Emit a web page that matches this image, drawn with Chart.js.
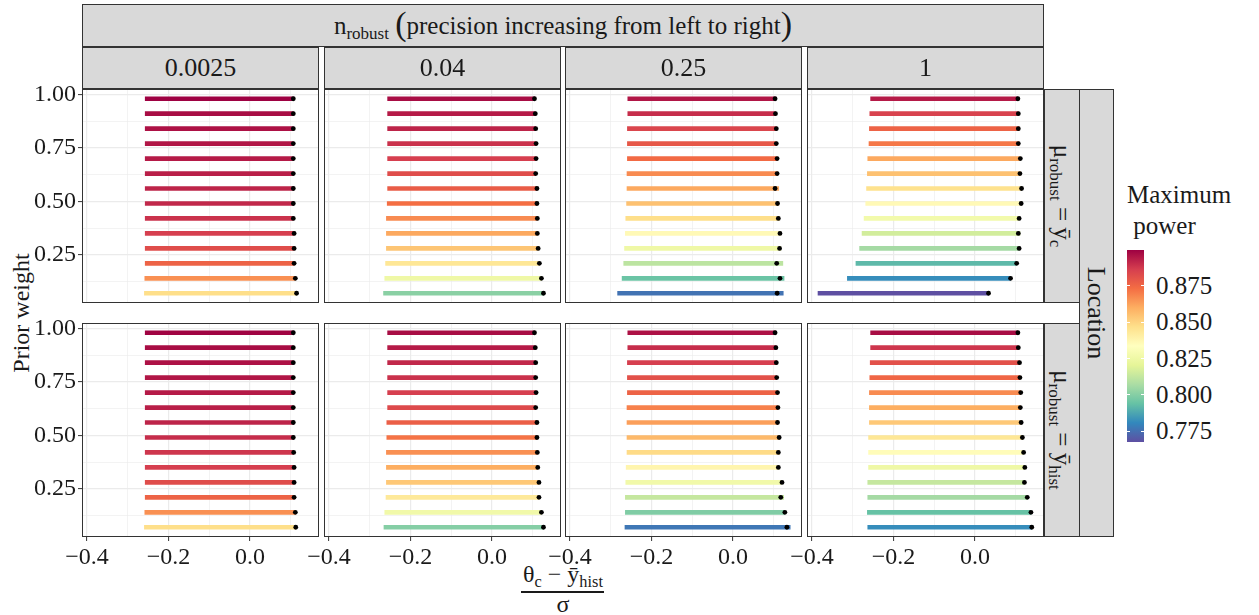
<!DOCTYPE html>
<html lang="en">
<head>
<meta charset="UTF-8">
<title>Maximum power by prior weight</title>
<script src="https://cdn.jsdelivr.net/npm/chart.js"></script>
<style>
  body { margin: 0; background: #fff; }
  #fig { position: relative; width: 1259px; height: 615px; overflow: hidden;
         font-family: "Liberation Serif", "Times New Roman", serif; color: #1a1a1a; }
  #fig canvas { position: absolute; }
  .strip { position: absolute; background: #d9d9d9; border: 1px solid #333; box-sizing: border-box;
           display: flex; align-items: center; justify-content: center; font-size: 26px; white-space: nowrap; }
  .rot { display: inline-block; transform: rotate(90deg); white-space: nowrap; }
  .txt { position: absolute; white-space: nowrap; }
  sub { font-size: 0.68em; vertical-align: -0.28em; line-height: 0; }
  .paren { font-size: 34px; line-height: 0; position: relative; top: 1px; }
</style>
</head>
<body>
<div id="fig">
  <!-- facet strips -->
  <div class="strip" style="left:82px;top:4px;width:962px;height:43px;font-size:25px;">
    <span>n<sub>robust</sub>&nbsp;<span class="paren">(</span>precision increasing from left to right<span class="paren">)</span></span>
  </div>
  <div class="strip" style="left:1044px;top:89px;width:36px;height:214px;font-size:25px;">
    <span class="rot">μ<sub>robust</sub> = ȳ<sub>c</sub></span>
  </div>
  <div class="strip" style="left:1044px;top:323px;width:36px;height:214px;font-size:25px;">
    <span class="rot">μ<sub>robust</sub> = ȳ<sub>hist</sub></span>
  </div>
  <div class="strip" style="left:1079px;top:89px;width:35px;height:448px;">
    <span class="rot">Location</span>
  </div>

  <!-- axis titles -->
  <div class="txt" style="left:21px;top:313px;font-size:24px;transform:translate(-50%,-50%) rotate(-90deg);">Prior weight</div>
  <div class="txt" style="left:563px;top:561px;font-size:24px;transform:translateX(-50%);">θ<sub>c</sub> − ȳ<sub>hist</sub></div>
  <div style="position:absolute;left:521px;top:591px;width:83px;height:1.5px;background:#1a1a1a;"></div>
  <div class="txt" style="left:563px;top:591px;font-size:24px;transform:translateX(-50%);">σ</div>

  <!-- legend -->
  <div class="txt" style="left:1127px;top:179px;font-size:25px;line-height:31px;">Maximum<br>&nbsp;power</div>
  <div id="bar" style="position:absolute;left:1127px;top:250px;width:17px;height:192px;"></div>
</div>

<script>
// prior weights, one segment per weight (top to bottom)
const weights = [0.98, 0.91, 0.84, 0.77, 0.70, 0.63, 0.56, 0.49, 0.42, 0.35, 0.28, 0.21, 0.14, 0.07];
const nRobust = ['0.0025', '0.04', '0.25', '1'];

const xMajor = [-0.4, -0.2, 0.0];
const xMajorLabels = ['−0.4', '−0.2', '0.0'];
const xMinor = [-0.3, -0.1, 0.1];
const yMajor = [0.25, 0.5, 0.75, 1.0];
const yMajorLabels = ['0.25', '0.50', '0.75', '1.00'];
const yMinor = [0.125, 0.375, 0.625, 0.875];
const legendTicks = [0.775, 0.800, 0.825, 0.850, 0.875];
const xRange = [-0.412, 0.169];
const yRange = [0.0245, 1.0255];

// mu_robust = ybar_c (top row)
const lowC1  = [-0.257, -0.257, -0.257, -0.257, -0.257, -0.257, -0.257, -0.257, -0.257, -0.257, -0.257, -0.257, -0.258, -0.259];
const highC1 = [0.106, 0.106, 0.106, 0.106, 0.106, 0.106, 0.106, 0.106, 0.106, 0.108, 0.108, 0.108, 0.111, 0.114];
const dotC1  = [0.106, 0.106, 0.106, 0.106, 0.106, 0.106, 0.106, 0.106, 0.106, 0.108, 0.108, 0.108, 0.111, 0.114];
const powC1  = [0.8995, 0.897, 0.896, 0.895, 0.894, 0.893, 0.892, 0.891, 0.889, 0.886, 0.882, 0.876, 0.866, 0.847];

const lowC2  = [-0.256, -0.256, -0.256, -0.256, -0.256, -0.256, -0.256, -0.257, -0.259, -0.259, -0.259, -0.261, -0.263, -0.266];
const highC2 = [0.104, 0.106, 0.107, 0.108, 0.108, 0.107, 0.110, 0.110, 0.111, 0.111, 0.113, 0.116, 0.121, 0.126];
const dotC2  = [0.104, 0.106, 0.107, 0.108, 0.108, 0.107, 0.110, 0.110, 0.111, 0.111, 0.113, 0.116, 0.121, 0.126];
const powC2  = [0.897, 0.894, 0.892, 0.889, 0.886, 0.882, 0.878, 0.873, 0.867, 0.861, 0.854, 0.844, 0.825, 0.801];

const lowC3  = [-0.258, -0.258, -0.259, -0.259, -0.259, -0.260, -0.260, -0.261, -0.263, -0.264, -0.266, -0.268, -0.272, -0.283];
const highC3 = [0.103, 0.104, 0.106, 0.106, 0.108, 0.109, 0.112, 0.112, 0.114, 0.117, 0.117, 0.122, 0.125, 0.123];
const dotC3  = [0.103, 0.104, 0.106, 0.106, 0.108, 0.108, 0.103, 0.109, 0.111, 0.115, 0.114, 0.107, 0.115, 0.108];
const powC3  = [0.895, 0.890, 0.884, 0.879, 0.874, 0.867, 0.861, 0.855, 0.847, 0.836, 0.825, 0.811, 0.795, 0.776];

const lowC4  = [-0.256, -0.258, -0.259, -0.260, -0.263, -0.264, -0.266, -0.268, -0.272, -0.277, -0.283, -0.292, -0.313, -0.385];
const highC4 = [0.105, 0.106, 0.108, 0.108, 0.110, 0.111, 0.113, 0.113, 0.108, 0.110, 0.109, 0.101, 0.087, 0.033];
const dotC4  = [0.105, 0.106, 0.106, 0.106, 0.111, 0.110, 0.114, 0.113, 0.108, 0.106, 0.108, 0.102, 0.087, 0.033];
const powC4  = [0.894, 0.885, 0.876, 0.871, 0.861, 0.855, 0.846, 0.836, 0.827, 0.816, 0.806, 0.792, 0.782, 0.7677];

// mu_robust = ybar_hist (bottom row)
const lowH1  = [-0.257, -0.257, -0.257, -0.257, -0.257, -0.257, -0.257, -0.257, -0.257, -0.257, -0.257, -0.257, -0.258, -0.259];
const highH1 = [0.106, 0.106, 0.106, 0.106, 0.106, 0.106, 0.106, 0.106, 0.107, 0.108, 0.108, 0.108, 0.111, 0.112];
const dotH1  = [0.106, 0.106, 0.106, 0.106, 0.106, 0.106, 0.106, 0.106, 0.107, 0.108, 0.108, 0.108, 0.111, 0.112];
const powH1  = [0.899, 0.897, 0.896, 0.895, 0.894, 0.893, 0.892, 0.890, 0.888, 0.886, 0.882, 0.876, 0.866, 0.847];

const lowH2  = [-0.256, -0.256, -0.256, -0.256, -0.256, -0.256, -0.258, -0.258, -0.259, -0.259, -0.259, -0.260, -0.263, -0.265];
const highH2 = [0.104, 0.106, 0.107, 0.107, 0.108, 0.107, 0.110, 0.110, 0.111, 0.112, 0.115, 0.115, 0.121, 0.126];
const dotH2  = [0.104, 0.106, 0.107, 0.107, 0.108, 0.107, 0.110, 0.110, 0.111, 0.112, 0.115, 0.115, 0.121, 0.126];
const powH2  = [0.897, 0.894, 0.891, 0.889, 0.886, 0.883, 0.877, 0.872, 0.866, 0.860, 0.853, 0.843, 0.826, 0.800];

const lowH3  = [-0.258, -0.258, -0.259, -0.259, -0.259, -0.260, -0.260, -0.260, -0.260, -0.262, -0.263, -0.264, -0.264, -0.265];
const highH3 = [0.104, 0.106, 0.107, 0.107, 0.110, 0.110, 0.110, 0.112, 0.114, 0.113, 0.119, 0.124, 0.127, 0.140];
const dotH3  = [0.103, 0.105, 0.106, 0.107, 0.109, 0.110, 0.109, 0.113, 0.111, 0.111, 0.120, 0.117, 0.127, 0.132];
const powH3  = [0.896, 0.890, 0.886, 0.881, 0.876, 0.869, 0.863, 0.857, 0.848, 0.838, 0.826, 0.813, 0.799, 0.777];

const lowH4  = [-0.256, -0.256, -0.257, -0.258, -0.259, -0.259, -0.259, -0.261, -0.261, -0.261, -0.263, -0.263, -0.264, -0.263];
const highH4 = [0.105, 0.106, 0.109, 0.110, 0.112, 0.111, 0.113, 0.117, 0.119, 0.122, 0.121, 0.128, 0.137, 0.139];
const dotH4  = [0.105, 0.106, 0.109, 0.110, 0.112, 0.111, 0.113, 0.116, 0.119, 0.122, 0.121, 0.128, 0.137, 0.139];
const powH4  = [0.897, 0.888, 0.881, 0.875, 0.867, 0.860, 0.853, 0.844, 0.835, 0.825, 0.813, 0.806, 0.794, 0.782];

const panels = [
  [[lowC1, highC1, dotC1, powC1], [lowC2, highC2, dotC2, powC2], [lowC3, highC3, dotC3, powC3], [lowC4, highC4, dotC4, powC4]],
  [[lowH1, highH1, dotH1, powH1], [lowH2, highH2, dotH2, powH2], [lowH3, highH3, dotH3, powH3], [lowH4, highH4, dotH4, powH4]]
];

// layout (pixels)
const panelLeft = [82, 324, 565, 807];
const panelTop = [89, 323];
const PW = 237, PH = 214, PAD = 22;
const FONT = "'Liberation Serif', 'Times New Roman', serif";

// Spectral palette, low -> high
const spectral = ['#5e4fa2', '#3288bd', '#66c2a5', '#abdda4', '#e6f598', '#ffffbf',
                  '#fee08b', '#fdae61', '#f46d43', '#d53e4f', '#9e0142'];
const allPow = panels.flat().map(p => p[3]).flat();
const powMin = Math.min(...allPow), powMax = Math.max(...allPow);

function hexRgb(h) {
  return [1, 3, 5].map(i => parseInt(h.slice(i, i + 2), 16));
}
function powerColor(p) {
  let t = (p - powMin) / (powMax - powMin) * (spectral.length - 1);
  t = Math.max(0, Math.min(spectral.length - 1, t));
  const i = Math.min(Math.floor(t), spectral.length - 2), f = t - i;
  const a = hexRgb(spectral[i]), b = hexRgb(spectral[i + 1]);
  return 'rgb(' + a.map((v, k) => Math.round(v + (b[k] - v) * f)).join(',') + ')';
}

const panelBorder = {
  id: 'panelBorder',
  afterDraw(chart) {
    const a = chart.chartArea, c = chart.ctx;
    c.save();
    c.strokeStyle = '#333';
    c.lineWidth = 1;
    c.strokeRect(a.left + 0.5, a.top + 0.5, a.right - a.left - 1, a.bottom - a.top - 1);
    c.restore();
  }
};

function axis(which, show, range, major, minor, labels, size) {
  return {
    type: 'linear',
    position: which === 'x' ? 'bottom' : 'left',
    min: range[0], max: range[1], bounds: 'data', offset: false,
    afterBuildTicks: s => { s.ticks = major.concat(minor).sort((a, b) => a - b).map(v => ({ value: v })); },
    afterFit: s => { if (which === 'x') s.height = show ? size : 0; else s.width = show ? size : 0; },
    grid: {
      offset: false,
      color: '#ebebeb',
      lineWidth: c => major.includes(c.tick.value) ? 1.2 : 0.6,
      drawTicks: show,
      tickLength: 4,
      tickWidth: 1,
      tickColor: c => major.includes(c.tick.value) ? '#333' : 'rgba(0,0,0,0)'
    },
    border: { display: false },
    ticks: {
      display: show, autoSkip: false, maxRotation: 0, padding: 2,
      color: '#1a1a1a', font: { family: FONT, size: 24 },
      callback: v => { const k = major.indexOf(v); return k < 0 ? '' : labels[k]; }
    }
  };
}

const fig = document.getElementById('fig');

panels.forEach((row, r) => row.forEach(([low, high, dot, pow], c) => {
  const showY = c === 0, showX = r === 1;
  const padL = showY ? 70 : PAD, padB = showX ? 34 : PAD;
  const cv = document.createElement('canvas');
  cv.width = padL + PW + 6;
  cv.height = PAD + PH + padB;
  cv.style.left = (panelLeft[c] - padL) + 'px';
  cv.style.top = (panelTop[r] - PAD) + 'px';
  fig.appendChild(cv);

  new Chart(cv, {
    type: 'bar',
    data: {
      datasets: [{
        type: 'bar',
        indexAxis: 'y',
        data: weights.map((w, i) => ({ y: w, x: [low[i], high[i]] })),
        backgroundColor: pow.map(powerColor),
        barThickness: 4,
        borderWidth: 0,
        order: 2
      }, {
        type: 'scatter',
        data: weights.map((w, i) => ({ x: dot[i], y: w })),
        backgroundColor: '#000',
        pointRadius: 2.4,
        pointBorderWidth: 0,
        order: 1
      }]
    },
    options: {
      responsive: false,
      animation: false,
      indexAxis: 'y',
      layout: { padding: { left: showY ? 0 : padL, top: PAD, right: 6, bottom: showX ? 0 : PAD } },
      plugins: { legend: { display: false }, tooltip: { enabled: false } },
      scales: {
        x: axis('x', showX, xRange, xMajor, xMinor, xMajorLabels, 34),
        y: axis('y', showY, yRange, yMajor, yMinor, yMajorLabels, 70)
      }
    },
    plugins: [panelBorder]
  });
}));

// column strips
nRobust.forEach((lab, c) => {
  const d = document.createElement('div');
  d.className = 'strip';
  d.style.cssText = `left:${panelLeft[c]}px;top:47px;width:${PW}px;height:42px;`;
  d.textContent = lab;
  fig.appendChild(d);
});

// colour bar legend
const bar = document.getElementById('bar');
bar.style.background = 'linear-gradient(to top,' + spectral.join(',') + ')';
const barTop = 250, barH = 192, barLeft = 1127, barW = 17;
legendTicks.forEach(v => {
  const y = barTop + (powMax - v) / (powMax - powMin) * barH;
  [barLeft, barLeft + barW - 3].forEach(x => {
    const t = document.createElement('div');
    t.style.cssText = `position:absolute;left:${x}px;top:${y - 0.5}px;width:3px;height:1px;background:#fff;`;
    fig.appendChild(t);
  });
  const l = document.createElement('div');
  l.className = 'txt';
  l.style.cssText = `left:1156px;top:${y - 15}px;font-size:25px;line-height:30px;`;
  l.textContent = v.toFixed(3);
  fig.appendChild(l);
});
</script>
</body>
</html>
